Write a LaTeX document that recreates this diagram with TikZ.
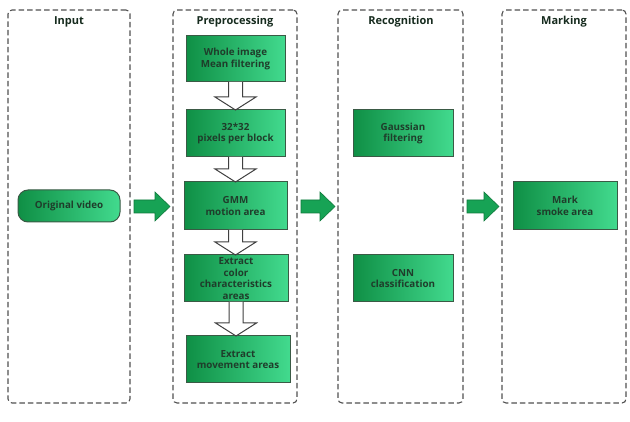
\documentclass[tikz,border=0pt]{standalone}
\usepackage{fontspec}
\setmainfont{Open Sans}
\usetikzlibrary{calc, positioning}
\definecolor{boxdark}{HTML}{0F8F45}
\definecolor{boxlight}{HTML}{42DA8E}
\definecolor{boxedge}{HTML}{3A5A45}
\definecolor{boxtext}{HTML}{1F3D2B}
\definecolor{flowgreen}{HTML}{17A355}
\definecolor{flowedge}{HTML}{0F7A3C}
\definecolor{frame}{HTML}{505050}
\tikzset{%
	stage column/.style={
		draw=frame,
		line width=1.1pt,
		dash pattern=on 5.5pt off 3pt,
		rounded corners=4pt,
		inner sep=0pt,
		outer sep=0pt
	},
	stage title/.style={
		font=\fontsize{11}{13}\selectfont\bfseries,
		text=boxtext!70!black
	},
	procbox/.style={
		draw=boxedge,
		line width=1pt,
		shading angle=45,
		left color=boxdark,
		right color=boxlight,
		text=boxtext,
		font=\fontsize{9.8}{11.8}\selectfont\bfseries,
		align=center,
		inner sep=1pt,
		outer sep=0pt
	},
	hollow/.style={
		draw=black!75,
		fill=white,
		line width=1pt,
		line join=miter
	},
	flow/.style={
		fill=flowgreen,
		draw=flowedge,
		line width=0.6pt
	},
}
% hollow arrow between two boxes of one column
\newcommand{\hollowarrow}[2]{%
	\draw[hollow] ($(#1.south)+(-7,0)$) -- ($(#1.south |- #2.north)+(-7,-13)$)
		-- ($(#1.south |- #2.north)+(-20.5,-13)$) -- (#1.south |- #2.north)
		-- ($(#1.south |- #2.north)+(20.5,-13)$) -- ($(#1.south |- #2.north)+(7,-13)$)
		-- ($(#1.south)+(7,0)$);}
% green block arrow between two columns
\newcommand{\flowarrow}[2]{%
	\filldraw[flow] ($(#1.east)+(4,-6.5)$) -- ($(#2.west)+(-18,-6.5)$)
		-- ($(#2.west)+(-18,-14.5)$) -- ($(#2.west)+(-3,0)$)
		-- ($(#2.west)+(-18,14.5)$) -- ($(#2.west)+(-18,6.5)$)
		-- ($(#1.east)+(4,6.5)$) -- cycle;}

\begin{document}
\begin{tikzpicture}[x=1pt,y=-1pt]
	\useasboundingbox (0,0) rectangle (630,422);
	
	% Dashed stage columns
	\node[stage column, minimum width=122pt, minimum height=393pt] (input) at (69,206.5) {};
	\node[stage column, minimum width=124pt, minimum height=393pt] (prep) at (235,206.5) {};
	\node[stage column, minimum width=125pt, minimum height=393pt] (recog) at (400.5,206.5) {};
	\node[stage column, minimum width=124pt, minimum height=393pt] (mark) at (564,206.5) {};
	
	% Stage titles
	\node[stage title] (inputtitle) at (69,22) {Input};
	\node[stage title] (preptitle) at (235,22) {Preprocessing};
	\node[stage title] (recogtitle) at (401,22) {Recognition};
	\node[stage title] (marktitle) at (564,22) {Marking};
	
	% Input
	\node[procbox, rounded corners=10pt, minimum width=102pt, minimum height=32pt] (video) at (69,206) {Original video};
	
	% Preprocessing boxes
	\node[procbox, minimum width=99pt, minimum height=46pt] (whole) at (235.5,59) {Whole image\\Mean filtering};
	\node[procbox, minimum width=99pt, minimum height=47pt] (block) at (235.5,133.5) {32*32\\pixels per block};
	\node[procbox, minimum width=103pt, minimum height=48pt] (gmm) at (235.5,206) {GMM\\motion area};
	\node[procbox, minimum width=104pt, minimum height=47pt] (color) at (236,278.5) {Extract\\color\\characteristics\\areas};
	\node[procbox, minimum width=104pt, minimum height=47pt] (move) at (238,359.5) {Extract\\movement areas};
	
	% Recognition boxes
	\node[procbox, minimum width=100pt, minimum height=47pt] (gauss) at (403,133.5) {Gaussian\\filtering};
	\node[procbox, minimum width=100pt, minimum height=47pt] (cnn) at (403,278.5) {CNN\\classification};
	
	% Marking box
	\node[procbox, minimum width=104pt, minimum height=48pt] (smoke) at (565,206) {Mark\\smoke area};
	
	% Hollow arrows inside preprocessing
	\hollowarrow{whole}{block}
	\hollowarrow{block}{gmm}
	\hollowarrow{gmm}{color}
	\hollowarrow{color}{move}
	
	% Block arrows between stages
	\flowarrow{input}{prep}
	\flowarrow{prep}{recog}
	\flowarrow{recog}{mark}
\end{tikzpicture}
\end{document}
